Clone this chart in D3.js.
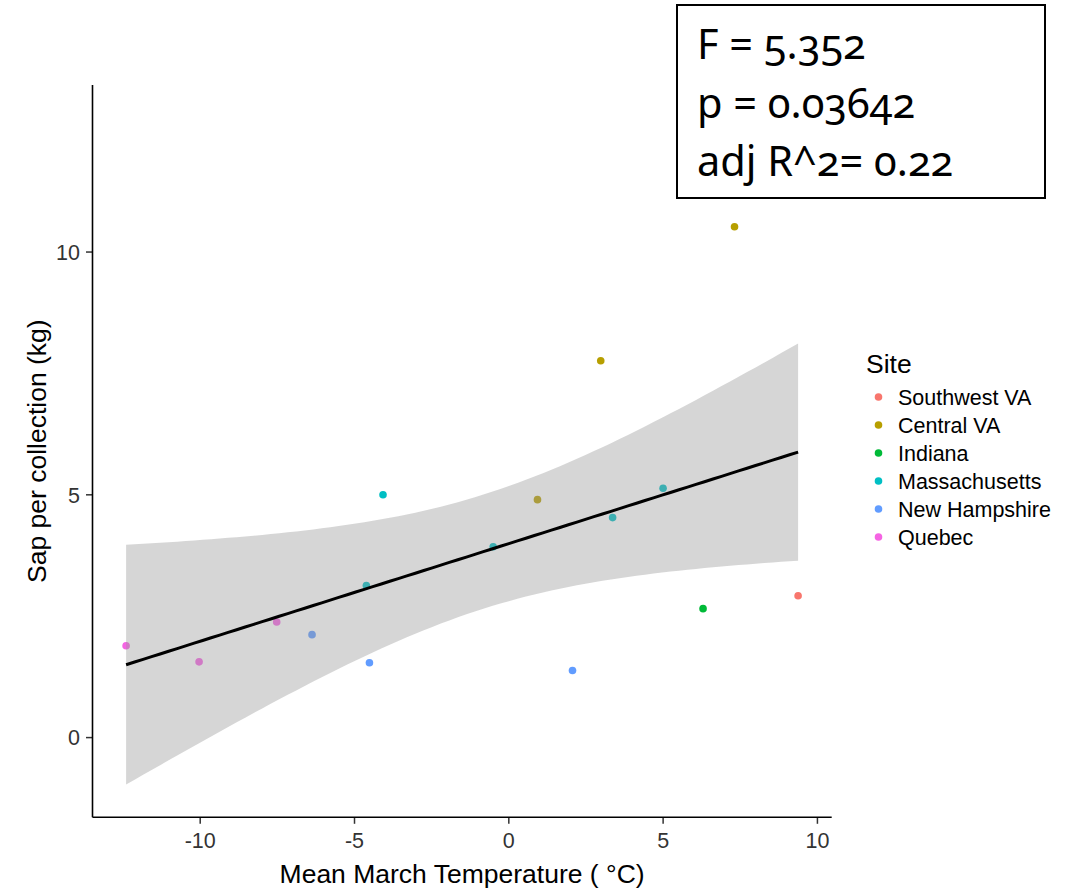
<!DOCTYPE html>
<html>
<head>
<meta charset="utf-8">
<script src="https://cdn.jsdelivr.net/npm/d3@7/dist/d3.min.js"></script>
<style>
  html, body { margin: 0; padding: 0; background: #fff; }
  svg { display: block; }
  .ann { font-family: "Noto Sans", "Open Sans", sans-serif; font-feature-settings: "onum" 1; font-variant-numeric: oldstyle-nums; }
</style>
</head>
<body>
<svg id="chart" width="1084" height="891"></svg>
<script>
// ---- data ----
const sites = ["Southwest VA", "Central VA", "Indiana", "Massachusetts", "New Hampshire", "Quebec"];
const siteColors = ["#F8766D", "#B79F00", "#00BA38", "#00BFC4", "#619CFF", "#F564E3"];
const pointSite = ["Southwest VA",
  "Central VA", "Central VA", "Central VA",
  "Indiana",
  "Massachusetts", "Massachusetts", "Massachusetts", "Massachusetts", "Massachusetts",
  "New Hampshire", "New Hampshire", "New Hampshire",
  "Quebec", "Quebec", "Quebec"];
const temperature = [9.39,
  0.945, 2.995, 7.33,
  6.31,
  -4.60, -4.06, -0.49, 3.38, 5.015,
  -6.36, -4.50, 2.08,
  -12.385, -10.02, -7.505];
const sap = [2.91,
  4.89, 7.75, 10.51,
  2.645,
  3.12, 4.99, 3.92, 4.52, 5.125,
  2.11, 1.53, 1.37,
  1.88, 1.55, 2.37];
const xTicks = [-10, -5, 0, 5, 10];
const yTicks = [0, 5, 10];
const yLimits = [-1.652, 13.43];
const xTitle = "Mean March Temperature ( \u00B0C)";
const yTitle = "Sap per collection (kg)";
const legendTitle = "Site";
const statLines = ["F = 5.352", "p = 0.03642", "adj R^2= 0.22"];
const tCrit = 2.144787; // t(0.975, df = 14)

// ---- layout ----
const svg = d3.select("#chart");
const panel = { left: 92.5, right: 831.7, top: 85, bottom: 817.3 };
const FONT = "Liberation Sans, Arial, sans-serif";

const xExt = d3.extent(temperature);
const xPad = (xExt[1] - xExt[0]) * 0.05;
const x = d3.scaleLinear().domain([xExt[0] - xPad, xExt[1] + xPad]).range([panel.left, panel.right]);
const y = d3.scaleLinear().domain(yLimits).range([panel.bottom, panel.top]);
const color = d3.scaleOrdinal().domain(sites).range(siteColors);

// ---- linear model with 95% CI ----
const n = temperature.length;
const mx = d3.mean(temperature), my = d3.mean(sap);
let sxx = 0, sxy = 0;
for (let i = 0; i < n; i++) { sxx += (temperature[i] - mx) ** 2; sxy += (temperature[i] - mx) * (sap[i] - my); }
const slope = sxy / sxx, intercept = my - slope * mx;
let sse = 0;
for (let i = 0; i < n; i++) sse += (sap[i] - (intercept + slope * temperature[i])) ** 2;
const sres = Math.sqrt(sse / (n - 2));
const fitGrid = d3.range(80).map(i => xExt[0] + (xExt[1] - xExt[0]) * i / 79);
const fit = fitGrid.map(t => {
  const f = intercept + slope * t;
  const se = sres * Math.sqrt(1 / n + (t - mx) ** 2 / sxx);
  return { t, f, lo: f - tCrit * se, hi: f + tCrit * se };
});

// ---- points (drawn first, ribbon overlays them as in ggplot) ----
svg.append("g").selectAll("circle")
  .data(temperature.map((t, i) => ({ t, s: sap[i], site: pointSite[i] })))
  .join("circle")
  .attr("cx", d => x(d.t))
  .attr("cy", d => y(d.s))
  .attr("r", 3.8)
  .attr("fill", d => color(d.site));

// ribbon
svg.append("path")
  .datum(fit)
  .attr("d", d3.area().x(d => x(d.t)).y0(d => y(d.lo)).y1(d => y(d.hi)))
  .attr("fill", "#999999")
  .attr("fill-opacity", 0.4);

// regression line
svg.append("path")
  .datum(fit)
  .attr("d", d3.line().x(d => x(d.t)).y(d => y(d.f)))
  .attr("fill", "none")
  .attr("stroke", "#000")
  .attr("stroke-width", 3);

// ---- axes ----
const fmt = d => String(d);
const xAxis = svg.append("g")
  .attr("transform", `translate(0,${panel.bottom})`)
  .call(d3.axisBottom(x).tickValues(xTicks).tickFormat(fmt).tickSize(6.5).tickPadding(6));
const yAxis = svg.append("g")
  .attr("transform", `translate(${panel.left},0)`)
  .call(d3.axisLeft(y).tickValues(yTicks).tickFormat(fmt).tickSize(6.5).tickPadding(6));

[xAxis, yAxis].forEach(g => {
  g.select(".domain").remove();
  g.selectAll(".tick line").attr("stroke", "#333").attr("stroke-width", 1.5);
  g.selectAll(".tick text").attr("fill", "#333").attr("font-family", FONT).attr("font-size", 21.5);
});
xAxis.selectAll(".tick text").attr("dy", null).attr("y", 31);
yAxis.selectAll(".tick text").attr("dy", "0.36em");

// axis lines
svg.append("line")
  .attr("x1", panel.left).attr("x2", panel.right)
  .attr("y1", panel.bottom).attr("y2", panel.bottom)
  .attr("stroke", "#000").attr("stroke-width", 1.6);
svg.append("line")
  .attr("x1", panel.left).attr("x2", panel.left)
  .attr("y1", panel.top).attr("y2", panel.bottom)
  .attr("stroke", "#000").attr("stroke-width", 1.6);

// axis titles
svg.append("text")
  .attr("x", (panel.left + panel.right) / 2).attr("y", 883)
  .attr("text-anchor", "middle")
  .attr("font-family", FONT).attr("font-size", 26.5).attr("fill", "#000")
  .text(xTitle);
svg.append("text")
  .attr("transform", `translate(46,${(panel.top + panel.bottom) / 2}) rotate(-90)`)
  .attr("text-anchor", "middle")
  .attr("font-family", FONT).attr("font-size", 26.5).attr("fill", "#000")
  .text(yTitle);

// ---- legend ----
const legend = svg.append("g");
legend.append("text")
  .attr("x", 866).attr("y", 373)
  .attr("font-family", FONT).attr("font-size", 26.5).attr("fill", "#000")
  .text(legendTitle);
const items = legend.selectAll("g.item").data(sites).join("g")
  .attr("class", "item")
  .attr("transform", (d, i) => `translate(0,${397 + i * 28})`);
items.append("circle").attr("cx", 878.5).attr("cy", 0).attr("r", 3.8).attr("fill", d => color(d));
items.append("text")
  .attr("x", 898).attr("y", 7.7)
  .attr("font-family", FONT).attr("font-size", 21.5).attr("fill", "#000")
  .text(d => d);

// ---- annotation box ----
const ann = svg.append("g");
ann.append("rect")
  .attr("x", 677).attr("y", 5).attr("width", 368).attr("height", 193)
  .attr("fill", "#fff").attr("stroke", "#000").attr("stroke-width", 2);
ann.selectAll("text").data(statLines).join("text")
  .attr("class", "ann")
  .attr("x", 697).attr("y", (d, i) => 59 + i * 58.5)
  .attr("font-size", 41.5).attr("fill", "#000")
  .text(d => d);
</script>
</body>
</html>
